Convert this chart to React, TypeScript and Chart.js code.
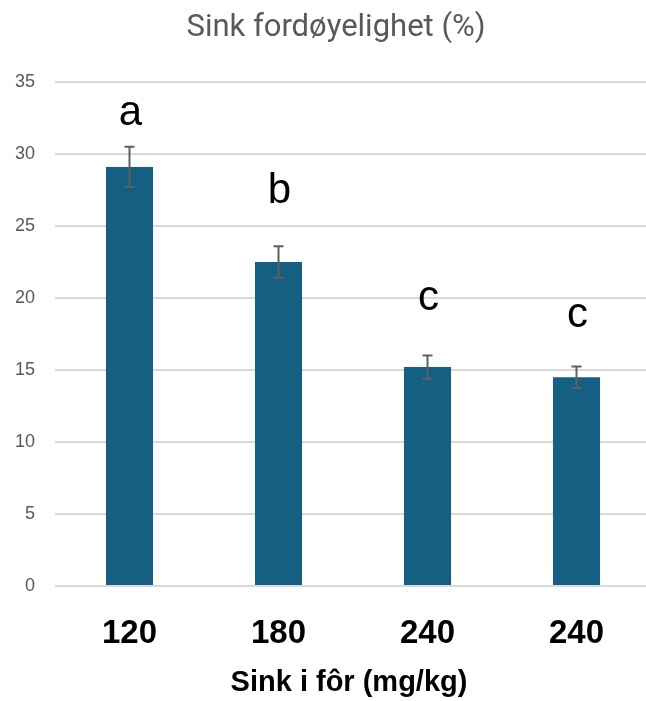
import React, { useEffect, useRef } from "react";
import { Chart, registerables } from "chart.js";

Chart.register(...registerables);

const categories = ["120", "180", "240", "240"];
const values = [29.1, 22.5, 15.2, 14.5];
const errors = [1.4, 1.1, 0.8, 0.75];
const letters = ["a", "b", "c", "c"];
const letterBaselines = [32.0, 26.6, 19.2, 18.0];
const yMin = 0;
const yMax = 35;
const yStep = 5;
const chartTitle = "Sink fordøyelighet (%)";
const xTitle = "Sink i fôr (mg/kg)";

const W = 652;
const H = 701;

const extrasPlugin = {
  id: "extras",
  afterDatasetsDraw(chart: any) {
    const ctx = chart.ctx;
    const y = chart.scales.y;
    const meta = chart.getDatasetMeta(0);
    ctx.save();
    // error bars
    ctx.strokeStyle = "#5f5f5f";
    ctx.lineWidth = 2;
    meta.data.forEach((el: any, i: number) => {
      const x = el.x;
      const top = y.getPixelForValue(values[i] + errors[i]);
      const bot = y.getPixelForValue(values[i] - errors[i]);
      ctx.beginPath();
      ctx.moveTo(x, top);
      ctx.lineTo(x, bot);
      ctx.moveTo(x - 5, top);
      ctx.lineTo(x + 5, top);
      ctx.moveTo(x - 5, bot);
      ctx.lineTo(x + 5, bot);
      ctx.stroke();
    });
    // letters
    ctx.fillStyle = "#000000";
    ctx.font = '42px "Liberation Sans", Arial, sans-serif';
    ctx.textAlign = "center";
    ctx.textBaseline = "alphabetic";
    meta.data.forEach((el: any, i: number) => {
      ctx.fillText(letters[i], el.x + 1, y.getPixelForValue(letterBaselines[i]));
    });
    // chart title
    ctx.fillStyle = "#595959";
    ctx.font = '31px Roboto, "Liberation Sans", sans-serif';
    ctx.textAlign = "center";
    ctx.fillText(chartTitle, 336, 36);
    // x axis title
    const ca = chart.chartArea;
    ctx.fillStyle = "#000000";
    ctx.font = 'bold 29px "Liberation Sans", Arial, sans-serif';
    ctx.fillText(xTitle, (ca.left + ca.right) / 2 - 4, 691);
    ctx.restore();
  },
};

export default function App() {
  const ref = useRef<HTMLCanvasElement | null>(null);
  useEffect(() => {
    if (!ref.current) return;
    const chart = new Chart(ref.current, {
      type: "bar",
      data: {
        labels: categories,
        datasets: [
          {
            data: values,
            backgroundColor: "#156082",
            borderWidth: 0,
            barPercentage: 0.316,
            categoryPercentage: 1,
          },
        ],
      },
      options: {
        animation: false,
        responsive: false,
        devicePixelRatio: 1,
        layout: { padding: { top: 82, right: 1, left: 0, bottom: 0 } },
        plugins: {
          legend: { display: false },
          tooltip: { enabled: false },
          title: { display: false },
        },
        scales: {
          x: {
            grid: { display: false, drawTicks: false },
            border: { display: false },
            ticks: {
              color: "#000000",
              font: { family: '"Liberation Sans", Arial, sans-serif', size: 33, weight: "bold" },
              padding: 28,
              maxRotation: 0,
            },
            afterFit(scale: any) {
              scale.height = 115;
            },
          },
          y: {
            min: yMin,
            max: yMax,
            grid: { color: "#d9d9d9", lineWidth: 2, drawTicks: false },
            border: { display: false },
            ticks: {
              stepSize: yStep,
              color: "#595959",
              font: { family: '"Liberation Sans", Arial, sans-serif', size: 18 },
              padding: 20,
            },
            afterFit(scale: any) {
              scale.width = 55;
            },
          },
        },
      },
      plugins: [extrasPlugin],
    });
    return () => chart.destroy();
  }, []);
  return (
    <div
      style={{
        position: "absolute",
        left: 0,
        top: 0,
        width: 646,
        height: 701,
        overflow: "hidden",
        background: "#ffffff",
      }}
    >
      <canvas ref={ref} width={W} height={H} style={{ display: "block", width: W, height: H }} />
    </div>
  );
}
